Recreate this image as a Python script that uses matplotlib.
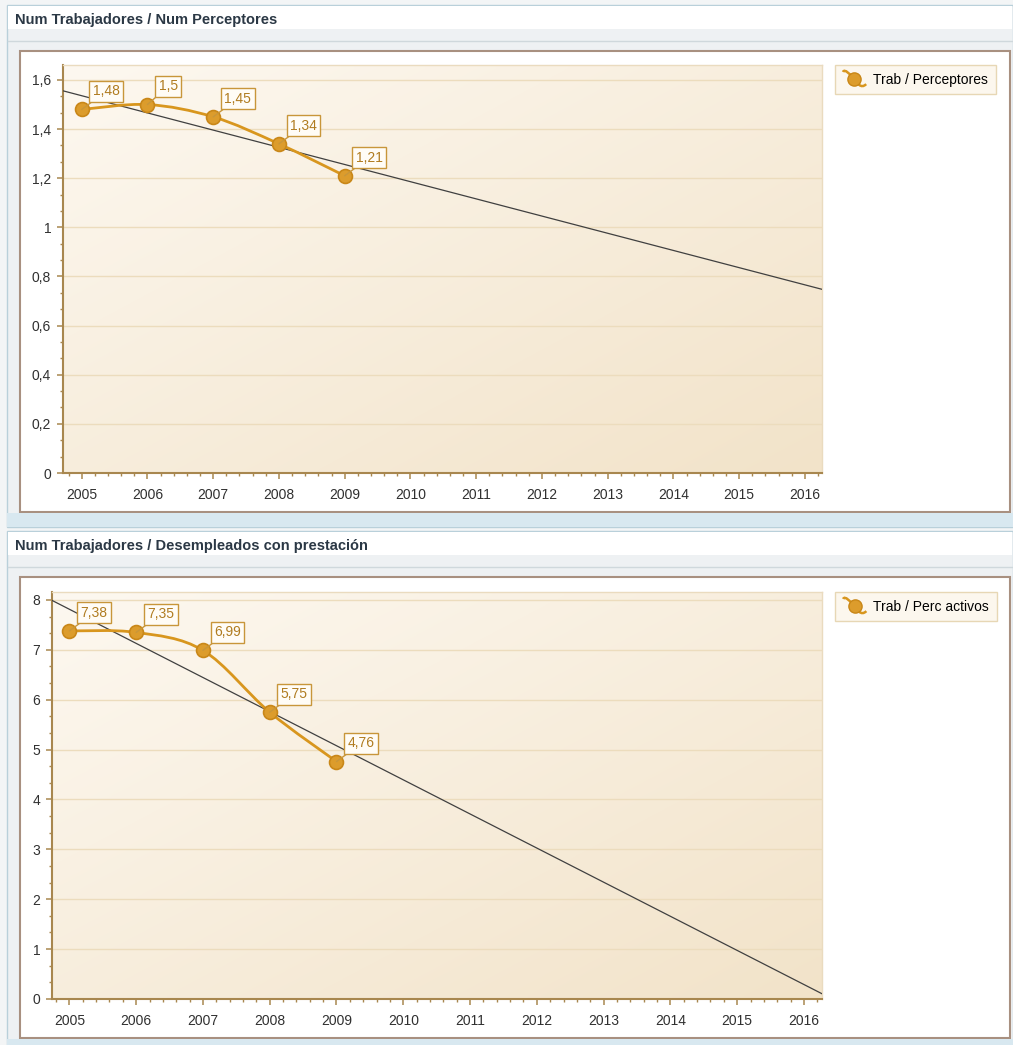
import numpy as np
import matplotlib
matplotlib.use("Agg")
import matplotlib.pyplot as plt
from matplotlib.patches import Rectangle, PathPatch
from matplotlib.path import Path
from matplotlib.lines import Line2D
from matplotlib.legend_handler import HandlerBase
from matplotlib import colors as cols
import matplotlib.ticker as mticker

plt.rcParams["font.family"] = ["Liberation Sans", "DejaVu Sans"]

# datos
years = [2005, 2006, 2007, 2008, 2009]
trab_perceptores = [1.48, 1.50, 1.45, 1.34, 1.21]
trab_perc_activos = [7.38, 7.35, 6.99, 5.75, 4.76]
xticks_years = list(range(2005, 2017))
titulo1 = "Num Trabajadores / Num Perceptores"
titulo2 = "Num Trabajadores / Desempleados con prestación"
leyenda1 = "Trab / Perceptores"
leyenda2 = "Trab / Perc activos"

W, H = 1013, 1045
LINE_COLOR = "#d8961e"
MARK_FACE = "#dc9c2c"
MARK_EDGE = "#c98718"
LABEL_COLOR = "#b07c20"
AXIS_COLOR = "#a8874f"


def frac(x0, y0, x1, y1):
    return [x0 / W, 1 - y1 / H, (x1 - x0) / W, (y1 - y0) / H]


def coma(v):
    s = "{:g}".format(round(v, 2))
    return s.replace(".", ",")


def spline_path(x, y):
    """
    curva suave (catmull-rom pasada a bezier)
    """
    p = np.column_stack([x, y]).astype(float)
    p = np.vstack([p[0], p, p[-1]])
    verts = [p[1]]
    codes = [Path.MOVETO]
    for i in range(1, len(p) - 2):
        c1 = p[i] + (p[i + 1] - p[i - 1]) / 6.0
        c2 = p[i + 1] - (p[i + 2] - p[i]) / 6.0
        verts += [c1, c2, p[i + 1]]
        codes += [Path.CURVE4, Path.CURVE4, Path.CURVE4]
    return Path(verts, codes)


class SplineHandler(HandlerBase):
    # icono de leyenda: curva + punto
    def create_artists(self, legend, orig_handle, xdescent, ydescent, width, height, fontsize, trans):
        x0, y0 = -xdescent, -ydescent
        w, h = width, height
        verts = [(x0 + 0.02 * w, y0 + 1.2 * h), (x0 + 0.08 * w, y0 + 1.6 * h),
                 (x0 + 0.35 * w, y0 + 0.9 * h), (x0 + 0.5 * w, y0 + 0.5 * h),
                 (x0 + 0.6 * w, y0 + 0.1 * h), (x0 + 0.78 * w, y0 - 0.6 * h),
                 (x0 + 1.0 * w, y0 - 0.05 * h)]
        codes = [Path.MOVETO, Path.CURVE4, Path.CURVE4, Path.CURVE4,
                 Path.CURVE4, Path.CURVE4, Path.CURVE4]
        curve = PathPatch(Path(verts, codes), facecolor="none", edgecolor=LINE_COLOR, lw=1.8, transform=trans)
        dot = Line2D([x0 + 0.5 * w], [y0 + 0.5 * h], linestyle="none", marker="o", markersize=9.5,
                     markerfacecolor=MARK_FACE, markeredgecolor=MARK_EDGE, transform=trans)
        return [curve, dot]


def draw_panel(bg, y0, y1, title):
    # marco exterior del panel
    bg.add_patch(Rectangle((7, y0), 1006, y1 - y0, facecolor="#eef1f3", edgecolor="#b9d0da", lw=1))
    bg.add_patch(Rectangle((8, y0 + 1), 1004, 23, facecolor="white", edgecolor="none"))
    grad = np.linspace(0, 1, 20)[:, None, None] * (np.array(cols.to_rgb("#eceff1")) - 1) + 1
    bg.imshow(np.repeat(grad, 2, axis=1), extent=[8, 1012, y0 + 35, y0 + 24], aspect="auto",
              interpolation="bilinear", zorder=0.5)
    bg.plot([8, 1012], [y0 + 36, y0 + 36], color="#cfd8dc", lw=1)
    bg.text(15, y0 + 15, title, fontsize=10.5, fontweight="bold", color="#2b3845", va="center", ha="left")
    # marco del grafico
    bg.add_patch(Rectangle((20, y0 + 46), 990, y1 - y0 - 61, facecolor="white", edgecolor="#a89080", lw=1.5))
    bg.add_patch(Rectangle((7, y1 - 14), 1006, 14, facecolor="#d8e8f0", edgecolor="none"))


def draw_chart(ax, x, y, xlim, ylim, ymajor, legend_text, ytick_fmt):
    # fondo degradado
    c0 = np.array(cols.to_rgb("#fdf8f0"))
    c1 = np.array(cols.to_rgb("#f2e3c9"))
    gx, gy = np.meshgrid(np.linspace(0, 1, 60), np.linspace(0, 1, 60))
    t = (gx + gy) / 2
    grad = c0[None, None, :] * (1 - t[..., None]) + c1[None, None, :] * t[..., None]
    ax.imshow(grad, extent=[0, 1, 0, 1], transform=ax.transAxes, aspect="auto",
              interpolation="bilinear", zorder=0)

    ax.set_xlim(*xlim)
    ax.set_ylim(*ylim)

    # linea de tendencia
    coef = np.polyfit(x, y, 1)
    xs = np.array(xlim)
    ax.plot(xs, np.polyval(coef, xs), color="#404040", lw=0.9, zorder=3)

    # serie
    ax.add_patch(PathPatch(spline_path(x, y), facecolor="none", edgecolor=LINE_COLOR, lw=2.0, zorder=4))
    ax.plot(x, y, linestyle="none", marker="o", markersize=10, markerfacecolor=MARK_FACE,
            markeredgecolor=MARK_EDGE, markeredgewidth=1.2, zorder=5)

    for xi, yi in zip(x, y):
        ax.annotate(coma(yi), xy=(xi, yi), xytext=(8, 8), textcoords="offset points",
                    ha="left", va="bottom", fontsize=10, color=LABEL_COLOR, zorder=6,
                    bbox=dict(boxstyle="square,pad=0.25", facecolor="#fffcf6", edgecolor="#c8963a", lw=1),
                    arrowprops=dict(arrowstyle="-", color="#c8963a", lw=1, shrinkA=0, shrinkB=0))

    # ejes
    ax.set_xticks(xticks_years)
    ax.xaxis.set_minor_locator(mticker.MultipleLocator(0.2))
    ax.yaxis.set_major_locator(mticker.MultipleLocator(ymajor))
    ax.yaxis.set_minor_locator(mticker.MultipleLocator(ymajor / 3))
    ax.yaxis.set_major_formatter(mticker.FuncFormatter(ytick_fmt))
    ax.grid(axis="y", which="major", color="#ecdcbd", lw=1, zorder=1)
    ax.set_axisbelow(True)
    ax.tick_params(which="major", direction="out", length=4.5, width=1.1, color=AXIS_COLOR,
                   labelsize=10, labelcolor="#303030")
    ax.tick_params(axis="x", which="major", pad=6)
    ax.tick_params(axis="y", which="major", pad=4)
    ax.tick_params(which="minor", direction="out", length=2.2, width=1.0, color=AXIS_COLOR)
    for s in ["left", "bottom"]:
        ax.spines[s].set_color(AXIS_COLOR)
        ax.spines[s].set_linewidth(1.5)
    for s in ["top", "right"]:
        ax.spines[s].set_color("#eadbbf")
        ax.spines[s].set_linewidth(1)

    h = Line2D([], [], color=LINE_COLOR)
    leg = ax.legend([h], [legend_text], loc="upper left", bbox_to_anchor=(1.017, 1.0),
                    borderaxespad=0, fontsize=10, frameon=True, fancybox=False,
                    handlelength=1.7, handletextpad=0.5, borderpad=0.55,
                    handler_map={h: SplineHandler()})
    leg.get_frame().set_facecolor("#fcf6ea")
    leg.get_frame().set_edgecolor("#e2cfa5")
    leg.get_frame().set_linewidth(1)


fig = plt.figure(figsize=(W / 100, H / 100), dpi=100)
fig.patch.set_facecolor("#f3f5f6")

bg = fig.add_axes([0, 0, 1, 1], zorder=-10)
draw_panel(bg, 5, 527, titulo1)
draw_panel(bg, 531, 1053, titulo2)
bg.set_xlim(0, W)
bg.set_ylim(H, 0)
bg.axis("off")

ax1 = fig.add_axes(frac(63, 65, 822, 473))
draw_chart(ax1, years, trab_perceptores, (2004.716, 2016.26), (0, 1.661), 0.2, leyenda1,
           lambda v, p: coma(v))

ax2 = fig.add_axes(frac(52, 592, 822, 999))
draw_chart(ax2, years, trab_perc_activos, (2004.74, 2016.27), (0, 8.16), 1, leyenda2,
           lambda v, p: "{:d}".format(int(round(v))))

plt.savefig("out.png", dpi=100)
